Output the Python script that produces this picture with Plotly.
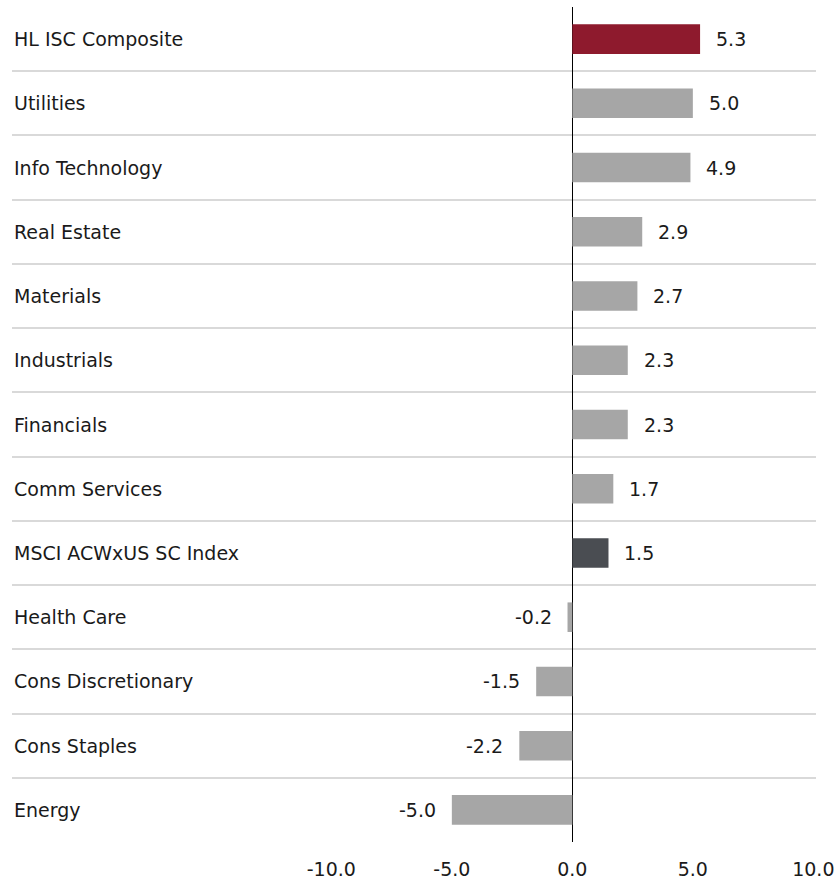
import plotly.graph_objects as go

# Dados do gráfico (de cima para baixo)
categories = [
    "HL ISC Composite", "Utilities", "Info Technology", "Real Estate",
    "Materials", "Industrials", "Financials", "Comm Services",
    "MSCI ACWxUS SC Index", "Health Care", "Cons Discretionary",
    "Cons Staples", "Energy",
]
values = [5.3, 5.0, 4.9, 2.9, 2.7, 2.3, 2.3, 1.7, 1.5, -0.2, -1.5, -2.2, -5.0]
bar_colors = [
    "#8e1a2d", "#a6a6a6", "#a6a6a6", "#a6a6a6", "#a6a6a6", "#a6a6a6",
    "#a6a6a6", "#a6a6a6", "#4a4d52", "#a6a6a6", "#a6a6a6", "#a6a6a6",
    "#a6a6a6",
]
tick_values = [-10, -5, 0, 5, 10]
tick_labels = ["-10.0", "-5.0", "0.0", "5.0", "10.0"]

positions = list(range(len(categories)))
font_family = "'DejaVu Sans', 'Open Sans', sans-serif"
text_color = "#1a1a1a"
font_size = 19

fig = go.Figure(go.Bar(
    x=values,
    y=positions,
    orientation="h",
    width=0.46,
    marker=dict(color=bar_colors, line=dict(width=0)),
    hoverinfo="skip",
))

# Rótulos das categorias à esquerda
for pos, name in zip(positions, categories):
    fig.add_annotation(
        x=0, xref="paper", y=pos, yref="y", text=name,
        xanchor="left", showarrow=False,
        font=dict(family=font_family, size=font_size, color=text_color),
    )

# Rótulos dos valores
for pos, val in zip(positions, values):
    fig.add_annotation(
        x=val, y=pos, text=f"{val:.1f}", showarrow=False,
        xanchor="left" if val >= 0 else "right",
        xshift=14 if val >= 0 else -14,
        font=dict(family=font_family, size=font_size, color=text_color),
    )

fig.update_layout(
    width=838,
    height=880,
    margin=dict(l=12, r=22, t=7, b=38, autoexpand=False),
    plot_bgcolor="white",
    paper_bgcolor="white",
    showlegend=False,
    font=dict(family=font_family, size=font_size, color=text_color),
    xaxis=dict(
        range=[-23.25, 10.11],
        tickmode="array",
        tickvals=tick_values,
        ticktext=tick_labels,
        showgrid=False,
        zeroline=True,
        zerolinecolor="black",
        zerolinewidth=1,
        ticks="",
        ticklabelstandoff=14,
        fixedrange=True,
    ),
    yaxis=dict(
        range=[len(categories) - 0.5, -0.5],
        tickmode="array",
        tickvals=[p + 0.5 for p in positions],
        showticklabels=False,
        showgrid=True,
        gridcolor="#d9d9d9",
        gridwidth=2,
        zeroline=False,
        ticks="",
        fixedrange=True,
    ),
)

# sem margem do body, para a figura ocupar a janela inteira
fig.write_html(
    "out.html",
    config={"displayModeBar": False},
    post_script="document.body.style.margin = '0';",
)
